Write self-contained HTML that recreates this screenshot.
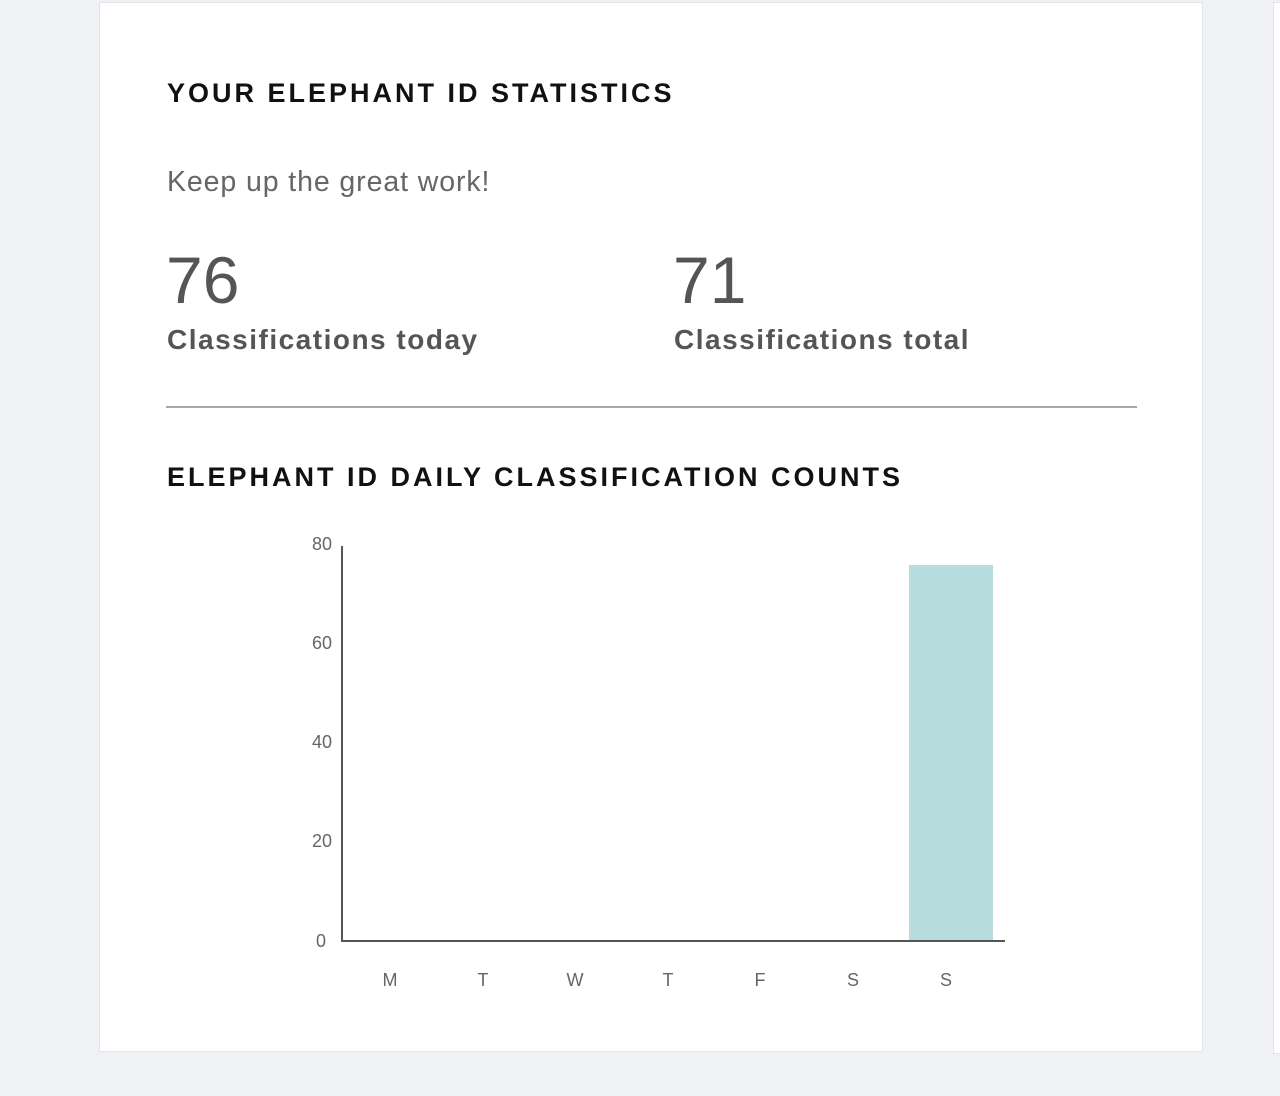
<!DOCTYPE html>
<html><head><meta charset="utf-8"><style>
html,body{margin:0;padding:0;background:#f0f1f5;width:1280px;height:1096px;overflow:hidden;font-family:"Liberation Sans",sans-serif}
.card{position:absolute;left:99px;top:2px;width:1104px;height:1050px;background:#fff;border:1px solid #e3e4e8;box-sizing:border-box}
.card2{position:absolute;left:1273px;top:2px;width:20px;height:1050px;background:#fff;border:1px solid #e3e4e8}
.t{position:absolute;white-space:nowrap}
</style></head><body>
<div class="card"></div><div class="card2"></div>
<div class="t" style="left:167px;top:78px;font-size:27px;font-weight:bold;letter-spacing:3px;color:#111">YOUR ELEPHANT ID STATISTICS</div>
<div class="t" style="left:167px;top:166px;font-size:28.5px;letter-spacing:0.9px;color:#666">Keep up the great work!</div>
<div class="t" style="left:166px;top:242px;font-size:66px;color:#555">76</div>
<div class="t" style="left:673px;top:242px;font-size:66px;color:#555">71</div>
<div class="t" style="left:167px;top:324px;font-size:28px;font-weight:bold;color:#555;letter-spacing:1.5px">Classifications today</div>
<div class="t" style="left:674px;top:324px;font-size:28px;font-weight:bold;color:#555;letter-spacing:1.5px">Classifications total</div>
<div style="position:absolute;left:166px;top:406px;width:971px;height:2px;background:#a8a8a8"></div>
<div class="t" style="left:167px;top:462px;font-size:27px;font-weight:bold;letter-spacing:3px;color:#111">ELEPHANT ID DAILY CLASSIFICATION COUNTS</div>
<svg style="position:absolute;left:0;top:0" width="1280" height="1096">
<g font-family="Liberation Sans,sans-serif" font-size="18" fill="#666" text-anchor="end">
<text x="332" y="550">80</text><text x="332" y="649">60</text><text x="332" y="748">40</text><text x="332" y="847">20</text><text x="326" y="947">0</text>
</g>
<rect x="909" y="565" width="84" height="376" fill="#b6dcdd"/>
<line x1="342" y1="546" x2="342" y2="942" stroke="#555" stroke-width="2"/>
<line x1="341" y1="941" x2="1005" y2="941" stroke="#555" stroke-width="2"/>
<g font-family="Liberation Sans,sans-serif" font-size="18" fill="#666" text-anchor="middle">
<text x="390" y="986">M</text><text x="483" y="986">T</text><text x="575" y="986">W</text><text x="668" y="986">T</text><text x="760" y="986">F</text><text x="853" y="986">S</text><text x="946" y="986">S</text>
</g>
</svg>
</body></html>
